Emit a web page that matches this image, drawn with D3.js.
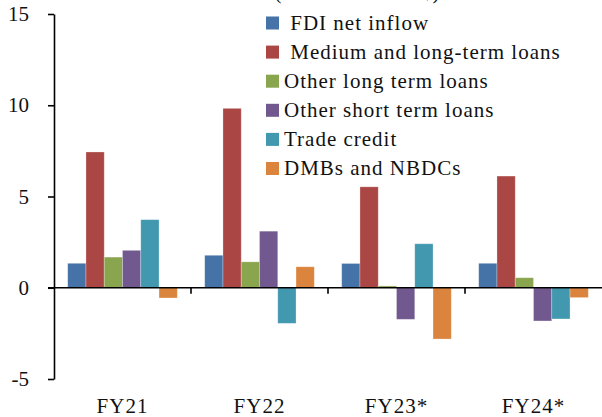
<!DOCTYPE html>
<html lang="en">
	<head>
		<meta charset="utf-8">
		<title>External financing</title>
		<script src="https://d3js.org/d3.v7.min.js"></script>
		<style>
			body { margin: 0; background: #fff; }
		</style>
	</head>
	<body>
		<script type="text/javascript">

			const years = ["FY21", "FY22", "FY23*", "FY24*"];
			const seriesNames = [" FDI net inflow", " Medium and long-term loans", "Other long term loans",
				"Other short term loans", "Trade credit", "DMBs and NBDCs"];
			const fdi = [1.34, 1.78, 1.33, 1.34];
			const mltLoans = [7.44, 9.83, 5.53, 6.12];
			const otherLong = [1.68, 1.42, 0.10, 0.55];
			const otherShort = [2.05, 3.10, -1.73, -1.82];
			const tradeCredit = [3.73, -1.95, 2.41, -1.71];
			const dmbs = [-0.56, 1.15, -2.81, -0.54];
			const yTicks = [-5, 0, 5, 10, 15];
			const unitNote = "(In billions of US$)";

			const colors = ["#4572a7", "#aa4643", "#89a54e", "#71588f", "#4198af", "#db843d"];

			drawChart();

			function drawChart(){
				const width = 602;
				const height = 417;
				const marginTop = 14;
				const marginRight = 0;
				const marginBottom = 38;
				const marginLeft = 54;
				const font = "'Liberation Serif', 'DejaVu Serif', serif";

				const values = [fdi, mltLoans, otherLong, otherShort, tradeCredit, dmbs];
				const data = [];
				years.forEach((yr, i) => {
					seriesNames.forEach((s, j) => data.push({year: yr, key: j, value: values[j][i]}));
				});

				const x = d3.scaleBand()
					.domain(years)
					.range([marginLeft, width - marginRight]);

				const xs = d3.scaleBand()
					.domain(d3.range(seriesNames.length))
					.range([0, x.bandwidth()])
					.paddingOuter(0.75);

				const y = d3.scaleLinear()
					.domain([-5, 15])
					.range([height - marginBottom, marginTop]);

				const svg = d3.select("body").append("svg")
					.attr("width", width)
					.attr("height", height)
					.attr("viewBox", [0, 0, width, height])
					.attr("font-family", font);

				// bars
				svg.append("g")
					.selectAll("rect")
					.data(data)
					.join("rect")
					.attr("x", d => x(d.year) + xs(d.key))
					.attr("width", xs.bandwidth())
					.attr("y", d => y(Math.max(0, d.value)))
					.attr("height", d => Math.abs(y(d.value) - y(0)))
					.attr("fill", d => colors[d.key])
					.attr("stroke", "#ffffff")
					.attr("stroke-opacity", 0.35)
					.attr("stroke-width", 0.8);

				// y axis
				svg.append("g")
					.attr("transform", `translate(${marginLeft},0)`)
					.call(d3.axisLeft(y).tickValues(yTicks).tickFormat(d => String(d))
						.tickSize(6).tickSizeOuter(0).tickPadding(19))
					.attr("font-family", font)
					.call(g => g.select(".domain").attr("stroke-width", 1.6))
					.call(g => g.selectAll(".tick line").attr("stroke-width", 1.6))
					.call(g => g.selectAll(".tick text")
						.attr("font-size", 21)
						.attr("fill", "#111"));

				// x axis at zero
				const xAxis = svg.append("g")
					.attr("transform", `translate(0,${y(0)})`);
				xAxis.append("line")
					.attr("x1", marginLeft - 6)
					.attr("x2", width - marginRight)
					.attr("stroke", "#000")
					.attr("stroke-width", 1.6);
				xAxis.selectAll(".sep")
					.data(years.slice(1))
					.join("line")
					.attr("class", "sep")
					.attr("x1", d => x(d))
					.attr("x2", d => x(d))
					.attr("y1", 0)
					.attr("y2", 6)
					.attr("stroke", "#000")
					.attr("stroke-width", 1.6);

				// category labels along the bottom
				svg.append("g")
					.selectAll("text")
					.data(years)
					.join("text")
					.attr("x", d => x(d) + x.bandwidth() / 2)
					.attr("y", 413)
					.attr("text-anchor", "middle")
					.attr("font-size", 21)
					.attr("letter-spacing", 1)
					.attr("fill", "#111")
					.text(d => d);

				// unit note, mostly cut off at the top
				svg.append("text")
					.attr("x", 357)
					.attr("y", -1)
					.attr("text-anchor", "middle")
					.attr("font-size", 21)
					.attr("fill", "#111")
					.text(unitNote);

				// legend
				const legend = svg.append("g")
					.selectAll("g")
					.data(seriesNames)
					.join("g")
					.attr("transform", (d, i) => `translate(266,${23 + i * 29.1})`);

				legend.append("rect")
					.attr("y", -6.5)
					.attr("width", 13)
					.attr("height", 13)
					.attr("fill", (d, i) => colors[i]);

				legend.append("text")
					.attr("x", 18)
					.attr("y", 6.5)
					.attr("font-size", 21)
					.attr("letter-spacing", 1)
					.attr("fill", "#111")
					.style("white-space", "pre")
					.text(d => d);
			}

		</script>
	</body>
</html>
